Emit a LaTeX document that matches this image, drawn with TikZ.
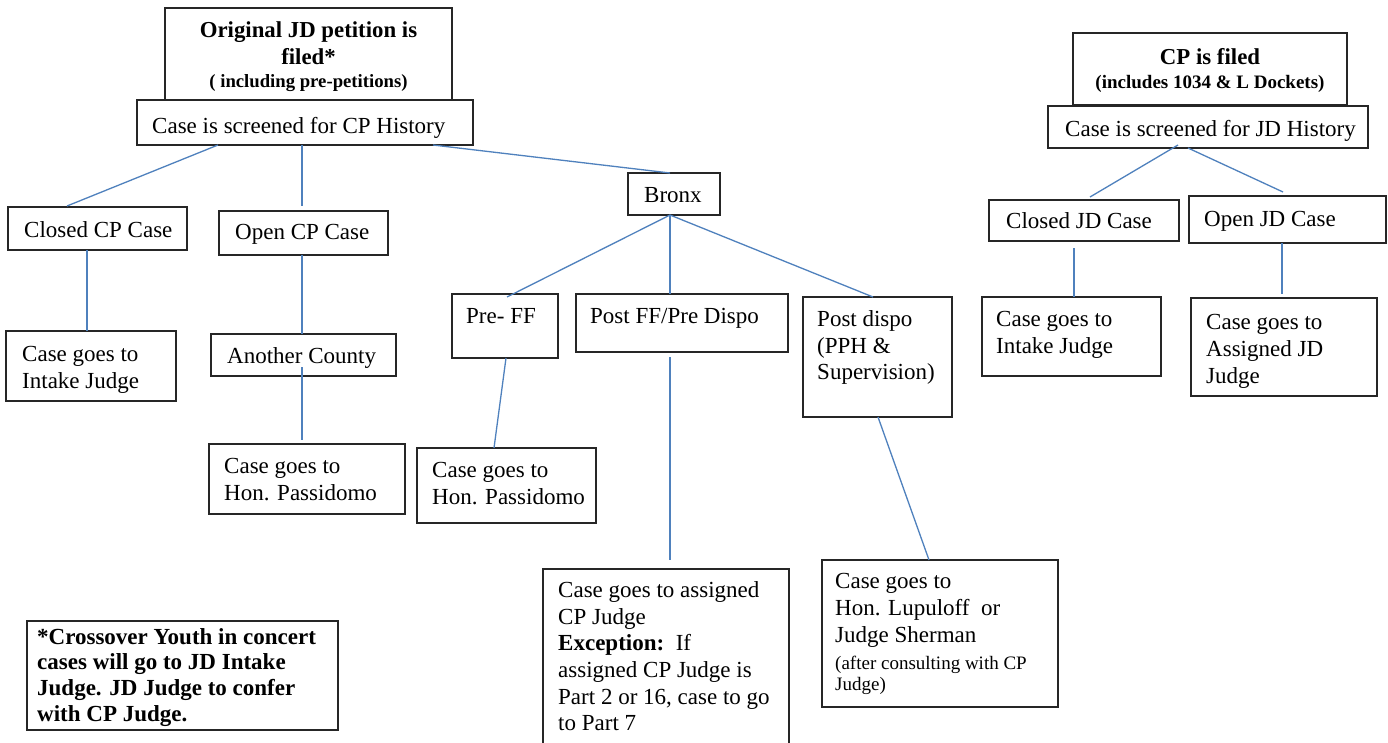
\documentclass[tikz,border=0pt]{standalone}
\usepackage{fontspec}
\setmainfont{Liberation Serif}
\usetikzlibrary{calc}
\definecolor{linkblue}{HTML}{4F81BD}
\definecolor{boxgray}{HTML}{262626}

\begin{document}
\begin{tikzpicture}[x=1pt,y=-1pt,
  box/.style={draw=boxgray, line width=1.4pt, inner sep=0pt, outer sep=0pt, anchor=north west},
  txt/.style={inner sep=0pt, anchor=north west, align=left,
              font=\fontsize{23}{26.7}\selectfont, execute at begin node=\strut},
  head/.style={txt, anchor=north, align=center, font=\bfseries\fontsize{22.8}{26.7}\selectfont},
  link/.style={draw=linkblue, line width=1.3pt}]

\clip (0,0) rectangle (1388,742);
\fill[white] (0,0) rectangle (1388,742);

% ---------- left tree: JD petition ----------
\node[box, minimum width=287pt, minimum height=92pt]  (tjd) at (165,8)   {};
\node[box, minimum width=336pt, minimum height=45pt]  (scp) at (137,100) {};
\node[box, minimum width=179pt, minimum height=43pt]  (ccp) at (8,207)   {};
\node[box, minimum width=169pt, minimum height=44pt]  (ocp) at (219,211) {};
\node[box, minimum width=170pt, minimum height=70pt]  (icp) at (6,331)   {};
\node[box, minimum width=185pt, minimum height=42pt]  (anc) at (211,334) {};
\node[box, minimum width=196pt, minimum height=70pt]  (ps1) at (209,444) {};
\node[box, minimum width=92pt,  minimum height=42pt]  (brx) at (628,173) {};
\node[box, minimum width=106pt, minimum height=64pt]  (pff) at (452,294) {};
\node[box, minimum width=212pt, minimum height=58pt]  (pfd) at (576,294) {};
\node[box, minimum width=149pt, minimum height=120pt] (psd) at (803,297) {};
\node[box, minimum width=179pt, minimum height=75pt]  (ps2) at (417,448) {};
\node[box, minimum width=246pt, minimum height=182pt] (cpj) at (543,569) {};
\node[box, minimum width=236pt, minimum height=147pt] (lup) at (822,560) {};
\node[box, minimum width=311pt, minimum height=109pt] (xov) at (27,621)  {};

% ---------- right tree: CP filing ----------
\node[box, minimum width=274pt, minimum height=72pt]  (tcp) at (1073,33)  {};
\node[box, minimum width=320pt, minimum height=42pt]  (sjd) at (1048,106) {};
\node[box, minimum width=190pt, minimum height=41pt]  (cjd) at (989,200)  {};
\node[box, minimum width=197pt, minimum height=47pt]  (ojd) at (1189,196) {};
\node[box, minimum width=179pt, minimum height=79pt]  (ijd) at (982,297)  {};
\node[box, minimum width=186pt, minimum height=98pt]  (ajd) at (1191,298) {};

% ---------- connectors ----------
\draw[link] ($(scp.south west)+(81,0)$)  -- ($(ccp.north west)+(59,-1)$);
\draw[link] ($(scp.south west)+(165,0)$) -- ($(ocp.north west)+(83,-5)$);
\draw[link] ($(scp.south west)+(296,0)$) -- ($(brx.north west)+(42,0)$);
\draw[link] ($(ccp.south west)+(79,0)$)  -- ($(icp.north west)+(81,0)$);
\draw[link] ($(ocp.south west)+(83,0)$)  -- ($(anc.north west)+(91,0)$);
\draw[link] ($(anc.south west)+(91,-9)$) -- ($(ps1.north west)+(93,-4)$);
\draw[link] ($(brx.south west)+(42,0)$)  -- ($(pff.north west)+(55,3)$);
\draw[link] ($(brx.south west)+(42,0)$)  -- ($(pfd.north west)+(94,0)$);
\draw[link] ($(brx.south west)+(42,0)$)  -- ($(psd.north west)+(70,0)$);
\draw[link] ($(pff.south west)+(54,0)$)  -- ($(ps2.north west)+(77,0)$);
\draw[link] ($(pfd.south west)+(94,5)$)  -- ($(cpj.north west)+(127,-9)$);
\draw[link] ($(psd.south west)+(75,0)$)  -- ($(lup.north west)+(107,0)$);
\draw[link] ($(sjd.south west)+(130,-3)$) -- ($(cjd.north west)+(101,-3)$);
\draw[link] ($(sjd.south west)+(140,0)$) -- ($(ojd.north west)+(94,-4)$);
\draw[link] ($(cjd.south west)+(85,7)$)  -- ($(ijd.north west)+(92,0)$);
\draw[link] ($(ojd.south west)+(93,0)$)  -- ($(ajd.north west)+(91,-4)$);

% ---------- texts ----------
\node[head] (tjdt) at (308.5,21.8) {Original JD petition is\\[0.3pt] filed*\\[-3.7pt] {\fontsize{18.7}{22}\selectfont ( including pre-petitions)}};
\node[txt] (scpt) at (152,114.3) {Case is screened for CP History};
\node[txt] (ccpt) at (24,218.3)  {Closed CP Case};
\node[txt] (ocpt) at (235,220.3) {Open CP Case};
\node[txt] (icpt) at (22,346.3)  {Case goes to\\ Intake Judge};
\node[txt] (anct) at (227,344.3) {Another County};
\node[txt] (ps1t) at (224,458.3) {Case goes to\\ Hon. Passidomo};
\node[txt] (brxt) at (644,183.8) {Bronx};
\node[txt] (pfft) at (466,304.3) {Pre- FF};
\node[txt] (pfdt) at (590,304.3) {Post FF/Pre Dispo};
\node[txt] (ps2t) at (432,462.3) {Case goes to\\ Hon. Passidomo};
\node[txt] (psdt) at (817,310.3) {Post dispo\\ (PPH \&\\ Supervision)};
\node[txt] (cpjt) at (558,581.3) {Case goes to assigned\\ CP Judge\\ \textbf{Exception:}\ \ If\\ assigned CP Judge is\\ Part 2 or 16, case to go\\ to Part 7};
\node[txt] (lupt) at (835,573)   {Case goes to\\ Hon. Lupuloff\ \ or\\[1pt] Judge Sherman\\[-0.4pt] {\fontsize{19}{22}\selectfont (after consulting with CP}\\[-5.7pt] {\fontsize{19}{22}\selectfont Judge)}};
\node[txt, font=\bfseries\fontsize{23}{25.7}\selectfont] (xovt) at (37,628) {*Crossover Youth in concert\\ cases will go to JD Intake\\ Judge. JD Judge to confer\\ with CP Judge.};

\node[head] (tcpt) at (1210,48.3) {CP is filed\\[-3pt] {\fontsize{19}{22}\selectfont (includes 1034 \& L Dockets)}};
\node[txt] (sjdt) at (1065,117.3) {Case is screened for JD History};
\node[txt] (cjdt) at (1006,209.3) {Closed JD Case};
\node[txt] (ojdt) at (1204,207.3) {Open JD Case};
\node[txt] (ijdt) at (996,311.3)  {Case goes to\\ Intake Judge};
\node[txt] (ajdt) at (1206,314.3) {Case goes to\\ Assigned JD\\ Judge};
\end{tikzpicture}
\end{document}
